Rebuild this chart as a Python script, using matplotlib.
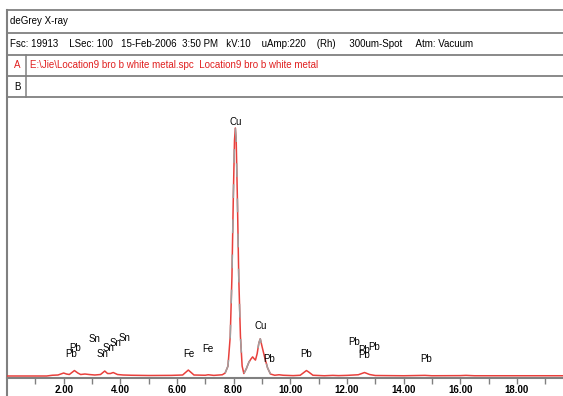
import matplotlib.pyplot as plt
from matplotlib.lines import Line2D

plt.rcParams['font.family'] = ['Liberation Sans', 'DejaVu Sans']

# spectrum: energy (keV) and relative counts (Cu Ka = 100)
energy = [0.0, 1.4, 1.6, 1.8, 2.0, 2.1, 2.2, 2.38, 2.5, 2.6, 2.75, 2.9, 3.1, 3.3,
          3.45, 3.55, 3.65, 3.75, 3.9, 4.1, 4.4, 5.0, 5.8, 6.2, 6.4, 6.6, 7.0, 7.1,
          7.3, 7.6, 7.7, 7.8, 7.88, 7.94, 7.99, 8.03, 8.06, 8.09, 8.13, 8.18, 8.24,
          8.3, 8.36, 8.45, 8.54, 8.62, 8.67, 8.72, 8.77, 8.83, 8.89, 8.94, 9.0,
          9.1, 9.2, 9.3, 9.45, 9.6, 9.75, 10.1, 10.35, 10.5, 10.57, 10.65, 10.8,
          11.2, 11.5, 11.7, 12.0, 12.4, 12.62, 12.8, 13.0, 14.0, 14.75, 15.0, 16.0,
          16.2, 16.5, 19.7]
counts = [0.0, 0.0, 0.3, 0.4, 1.2, 0.8, 0.6, 2.2, 1.2, 0.6, 0.8, 0.6, 0.4, 0.6,
          2.0, 1.0, 1.0, 1.4, 0.6, 0.4, 0.3, 0.2, 0.25, 0.4, 2.4, 0.4, 0.3, 0.5,
          0.25, 0.5, 1.2, 4.0, 16.0, 40.0, 73.0, 95.0, 100.0, 95.0, 73.0, 40.0, 16.0,
          4.0, 1.0, 3.0, 5.6, 7.0, 7.7, 7.0, 6.4, 9.0, 13.3, 15.0, 12.0,
          7.3, 3.2, 0.8, 0.3, 0.5, 0.3, 0.15, 0.3, 1.6, 2.2, 1.6, 0.3,
          0.1, 0.25, 0.15, 0.25, 0.5, 1.4, 0.6, 0.2, 0.1, 0.25, 0.1, 0.15,
          0.25, 0.1, 0.1]

# element markers: label, energy, height
peak_names = ['Cu', 'Cu', 'Pb', 'Fe', 'Fe', 'Pb', 'Pb', 'Pb', 'Pb', 'Pb', 'Pb',
              'Pb', 'Pb', 'Sn', 'Sn', 'Sn', 'Sn', 'Sn']
peak_kev = [8.07, 8.95, 9.27, 6.41, 7.08, 10.57, 12.27, 12.62, 12.62, 12.95, 14.78,
            2.25, 2.42, 3.09, 3.38, 3.6, 3.82, 4.14]
peak_height = [102.5, 20.2, 6.9, 8.9, 10.9, 8.9, 13.7, 10.5, 8.3, 11.7, 6.9,
               8.7, 11.3, 14.9, 8.9, 11.3, 13.3, 15.3]

tick_kev = list(range(1, 20))
tick_text = ['%.2f' % t if t % 2 == 0 else '' for t in tick_kev]

W, H = 563, 396
grey = '#808080'
fig = plt.figure(figsize=(W / 100, H / 100), dpi=100)

# header panel drawn in pixel coordinates
bg = fig.add_axes([0, 0, 1, 1])
bg.set_xlim(0, W)
bg.set_ylim(H, 0)
bg.axis('off')
for y in [10, 33, 55, 76, 97]:
    bg.add_line(Line2D([7, W], [y, y], color=grey, lw=1.3))
bg.add_line(Line2D([7, 7], [10, H], color=grey, lw=1.5))
bg.add_line(Line2D([26, 26], [55, 97], color=grey, lw=1.1))
bg.text(10, 21.5, 'deGrey X-ray', fontsize=7, va='center')
bg.text(10, 44, 'Fsc: 19913    LSec: 100   15-Feb-2006  3:50 PM   kV:10    '
        'uAmp:220    (Rh)     300um-Spot     Atm: Vacuum', fontsize=7, va='center')
bg.text(14, 65.5, 'A', fontsize=7, va='center', color='#e02020')
bg.text(30, 65.5, 'E:\\Jie\\Location9 bro b white metal.spc  Location9 bro b white metal',
        fontsize=7, va='center', color='#e02020')
bg.text(14, 86.5, 'B', fontsize=7, va='center')

# spectrum axes
x0, x1 = 7, W
ytop, yaxis = 98, 378
ax = fig.add_axes([x0 / W, (H - yaxis) / H, (x1 - x0) / W, (yaxis - ytop) / H])
ax.patch.set_alpha(0)
px = 100 / 248
ax.set_xlim(0, (x1 - x0) / 28.33)
ax.set_ylim(-2 * px, (376 - ytop) * px)
ax.plot(energy, counts, color='#e8403c', lw=1.1)
sub = [i for i, e in enumerate(energy) if 7.7 <= e <= 9.3]
ax.plot([energy[i] for i in sub], [counts[i] for i in sub], color='#a0a0a0', lw=1.1,
        dashes=(9, 14))
for name, e, h in zip(peak_names, peak_kev, peak_height):
    ax.text(e, h, name, fontsize=7, ha='center', va='center')

for s in ['top', 'left', 'right']:
    ax.spines[s].set_visible(False)
ax.spines['bottom'].set_color(grey)
ax.spines['bottom'].set_linewidth(1.5)
ax.set_yticks([])
ax.set_xticks(tick_kev)
ax.set_xticklabels(tick_text, fontsize=7, fontweight='bold')
ax.tick_params(axis='x', direction='out', length=4, width=1, color=grey, pad=1)

fig.savefig('out.png', dpi=100)
